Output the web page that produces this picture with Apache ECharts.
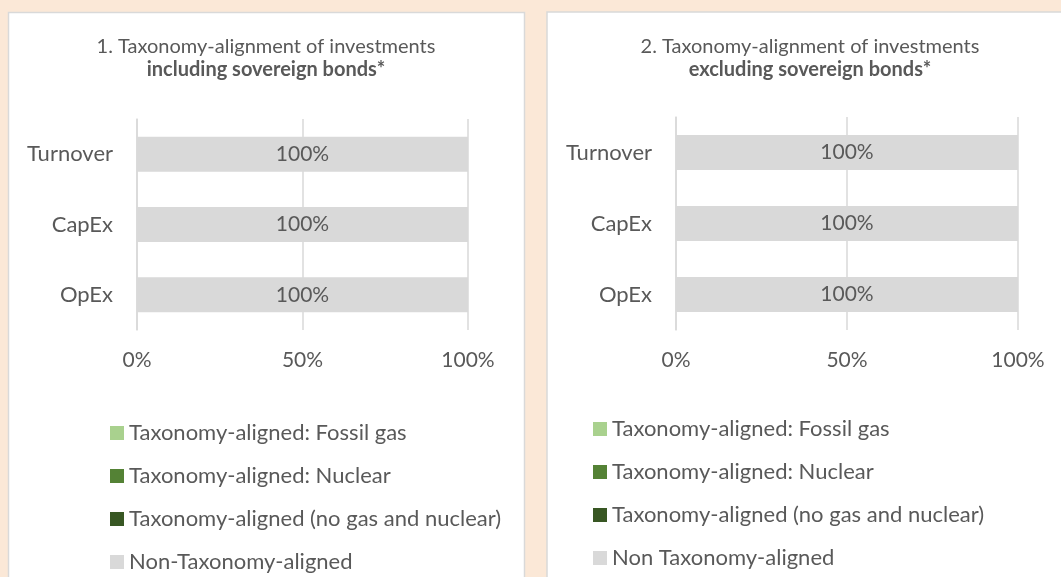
<!DOCTYPE html>
<html>
<head>
<meta charset="utf-8">
<script src="https://cdn.jsdelivr.net/npm/echarts@6/dist/echarts.min.js"></script>
<style>
  html, body { margin: 0; padding: 0; background: #fbe8d7; }
  #chart { width: 1061px; height: 577px; }
</style>
</head>
<body>
<div id="chart"></div>
<script>
const categories = ['Turnover', 'CapEx', 'OpEx'];

const namesLeft = [
  'Taxonomy-aligned: Fossil gas',
  'Taxonomy-aligned: Nuclear',
  'Taxonomy-aligned (no gas and nuclear)',
  'Non-Taxonomy-aligned'
];
const namesRight = [
  'Taxonomy-aligned: Fossil gas',
  'Taxonomy-aligned: Nuclear',
  'Taxonomy-aligned (no gas and nuclear)',
  'Non Taxonomy-aligned'
];
const colors = ['#a9d18e', '#548235', '#385723', '#d9d9d9'];

// 1. including sovereign bonds
const fossilGasIncl = [0, 0, 0];
const nuclearIncl = [0, 0, 0];
const alignedIncl = [0, 0, 0];
const nonAlignedIncl = [100, 100, 100];

// 2. excluding sovereign bonds
const fossilGasExcl = [0, 0, 0];
const nuclearExcl = [0, 0, 0];
const alignedExcl = [0, 0, 0];
const nonAlignedExcl = [100, 100, 100];

const xTicks = [0, 50, 100];

const textColor = '#595959';
const font = 'Lato';

function makeSeries(names, values, idx) {
  return names.map((name, i) => ({
    name: name,
    type: 'bar',
    stack: 'g' + idx,
    xAxisIndex: idx,
    yAxisIndex: idx,
    barWidth: 35,
    itemStyle: { color: colors[i] },
    label: {
      show: i === 3,
      position: 'inside',
      formatter: '{c}%',
      color: textColor,
      fontFamily: font,
      fontSize: 21
    },
    emphasis: { disabled: true },
    data: values[i]
  }));
}

function xAxis(idx) {
  return {
    type: 'value',
    gridIndex: idx,
    min: xTicks[0],
    max: xTicks[xTicks.length - 1],
    interval: xTicks[1] - xTicks[0],
    axisLine: { show: false },
    axisTick: { show: false },
    splitLine: { lineStyle: { color: '#d9d9d9', width: 1.5 } },
    axisLabel: {
      formatter: '{value}%',
      margin: 20,
      color: textColor,
      fontFamily: font,
      fontSize: 21
    }
  };
}

function yAxis(idx) {
  return {
    type: 'category',
    gridIndex: idx,
    inverse: true,
    data: categories,
    axisLine: { lineStyle: { color: '#d9d9d9', width: 1.5 } },
    axisTick: { length: 8, lineStyle: { color: '#d9d9d9', width: 1.5 } },
    axisLabel: {
      margin: 24,
      color: textColor,
      fontFamily: font,
      fontSize: 22
    }
  };
}

function legend(names, left, top) {
  return {
    orient: 'vertical',
    left: left,
    top: top,
    padding: 0,
    icon: 'rect',
    itemWidth: 14,
    itemHeight: 14,
    itemGap: 21,
    selectedMode: false,
    data: names,
    textStyle: { color: textColor, fontFamily: font, fontSize: 22, lineHeight: 22 }
  };
}

function title(text, sub, left) {
  return {
    text: text,
    subtext: sub,
    left: left,
    top: 37,
    padding: 0,
    itemGap: 3,
    textAlign: 'center',
    textStyle: { color: textColor, fontFamily: font, fontSize: 20, fontWeight: 'normal', lineHeight: 20 },
    subtextStyle: { color: textColor, fontFamily: font, fontSize: 20, fontWeight: 'bold', lineHeight: 20 }
  };
}

const chart = echarts.init(document.getElementById('chart'));

chart.setOption({
  animation: false,
  backgroundColor: '#fbe8d7',
  graphic: [
    {
      type: 'rect', z: -10,
      shape: { x: 8.5, y: 12.5, width: 516, height: 600 },
      style: { fill: '#fff', stroke: '#d9d9d9', lineWidth: 1.5 }
    },
    {
      type: 'rect', z: -10,
      shape: { x: 547, y: 12, width: 540, height: 600 },
      style: { fill: '#fff', stroke: '#d9d9d9', lineWidth: 1.5 }
    }
  ],
  title: [
    title('1. Taxonomy-alignment of investments', 'including sovereign bonds*', 266),
    title('2. Taxonomy-alignment of investments', 'excluding sovereign bonds*', 810)
  ],
  legend: [
    legend(namesLeft, 110, 422),
    legend(namesRight, 593, 418)
  ],
  grid: [
    { left: 137, top: 119, width: 331, height: 211 },
    { left: 676, top: 117, width: 342, height: 213 }
  ],
  xAxis: [xAxis(0), xAxis(1)],
  yAxis: [yAxis(0), yAxis(1)],
  series: [
    ...makeSeries(namesLeft, [fossilGasIncl, nuclearIncl, alignedIncl, nonAlignedIncl], 0),
    ...makeSeries(namesRight, [fossilGasExcl, nuclearExcl, alignedExcl, nonAlignedExcl], 1)
  ]
});
</script>
</body>
</html>
